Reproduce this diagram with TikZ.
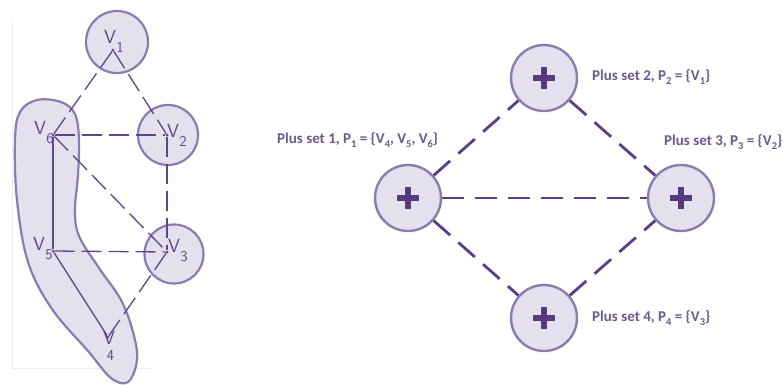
\documentclass[tikz,border=0pt]{standalone}
\usepackage{fontspec}
\setmainfont{Carlito}
\newcommand{\lowidx}[1]{\raisebox{-0.28em}{\fontsize{10.5}{10.5}\selectfont #1}}
\newcommand{\vname}[1]{V\kern0.3pt\raisebox{-9pt}{\fontsize{15}{15}\selectfont #1}}
\definecolor{ringc}{HTML}{8B7CAE}
\definecolor{fillc}{HTML}{E4E0EE}
\definecolor{edgec}{HTML}{5B4787}
\definecolor{dashc}{HTML}{5A3F86}
\definecolor{plusc}{HTML}{553A80}
\definecolor{textc}{HTML}{6A5A8E}
\definecolor{paperc}{HTML}{EDEDED}
\tikzset{
  x=1pt, y=-1pt,
  setring/.style={circle, draw=ringc, fill=fillc, line width=2.4pt, minimum size=66pt, inner sep=0pt},
  vring/.style={draw=ringc, fill=fillc, line width=2.2pt},
  gedge/.style={draw=edgec, line width=1.3pt},
  gdash/.style={gedge, dash pattern=on 20pt off 7pt},
  pdash/.style={draw=dashc, line width=2.8pt, dash pattern=on 22pt off 11pt},
  vtx/.style={circle, fill=edgec, inner sep=0pt, minimum size=3pt},
  vlabel/.style={inner sep=0pt, text=edgec, font=\sffamily\fontsize{19}{19}\selectfont},
  setlabel/.style={anchor=west, inner sep=0pt, text=textc, font=\bfseries\fontsize{15}{15}\selectfont},
}
\newcommand{\plussign}[1]{%
  \draw[plusc, line width=6pt] ([xshift=-11pt]#1.center) -- ([xshift=11pt]#1.center);
  \draw[plusc, line width=6pt] ([yshift=-11pt]#1.center) -- ([yshift=11pt]#1.center);}
\begin{document}
\begin{tikzpicture}
\useasboundingbox (0,0) rectangle (783,384);
\fill[white] (0,0) rectangle (783,384);

% edge of the sketch paper
\draw[paperc, line width=0.8pt] (12,18) -- (12,368) -- (153,368);

% group of V4, V5, V6
\path[vring] plot[smooth cycle, tension=0.6] coordinates {
  (37,100) (61,102) (75,114) (79,140) (78,175) (75,210) (79,236)
  (99,268) (121,300) (133,332) (137,360) (128,382) (111,378)
  (88,351) (52,309) (28,262) (17,200) (15,140) (20,112)};

% singleton groups
\path[vring] (117,42) circle (31);
\path[vring] (168,135) circle (30);
\path[vring] (174,254) circle (29.5);

% vertices
\node[vtx] (v1) at (113,50) {};
\node[vtx] (v2) at (167,135) {};
\node[vtx] (v3) at (167,252) {};
\node[vtx] (v4) at (108,337) {};
\node[vtx] (v5) at (53,251) {};
\node[vtx] (v6) at (53,135) {};

% edges inside a group
\draw[gedge] (v6) -- (v5);
\draw[gedge] (v5) -- (v4);
% edges between groups
\draw[gdash] (v1) -- (v2);
\draw[gdash] (v1) -- (v6);
\draw[gdash] (v6) -- (v2);
\draw[gdash] (v6) -- (v3);
\draw[gdash] (v2) -- (v3);
\draw[gdash] (v5) -- (v3);
\draw[gdash] (v3) -- (v4);

% vertex labels
\node[vlabel] (l1) at (114,41) {\vname{1}};
\node[vlabel] (l2) at (177,135) {\vname{2}};
\node[vlabel] (l3) at (178,251) {\vname{3}};
\node[vlabel, align=center] (l4) at (109,346) {V\\[-3pt]\hspace*{3pt}\fontsize{15}{15}\selectfont 4};
\node[vlabel] (l5) at (43,249) {\vname{5}};
\node[vlabel] (l6) at (44,133) {\vname{6}};

% plus sets
\node[setring] (p1) at (408,198) {};
\node[setring] (p2) at (544,78) {};
\node[setring] (p3) at (681,198) {};
\node[setring] (p4) at (544,318) {};
\foreach \p in {p1,p2,p3,p4} {\plussign{\p}}

\draw[pdash] (p1) -- (p2);
\draw[pdash] (p1) -- (p3);
\draw[pdash] (p1) -- (p4);
\draw[pdash] (p2) -- (p3);
\draw[pdash] (p4) -- (p3);

\node[setlabel] (t1) at (277,140) {Plus set 1, P\lowidx{1} = \{V\lowidx{4}, V\lowidx{5}, V\lowidx{6}\}};
\node[setlabel] (t2) at (592,77) {Plus set 2, P\lowidx{2} = \{V\lowidx{1}\}};
\node[setlabel] (t3) at (664,142) {Plus set 3, P\lowidx{3} = \{V\lowidx{2}\}};
\node[setlabel] (t4) at (592,318) {Plus set 4, P\lowidx{4} = \{V\lowidx{3}\}};
\end{tikzpicture}
\end{document}
